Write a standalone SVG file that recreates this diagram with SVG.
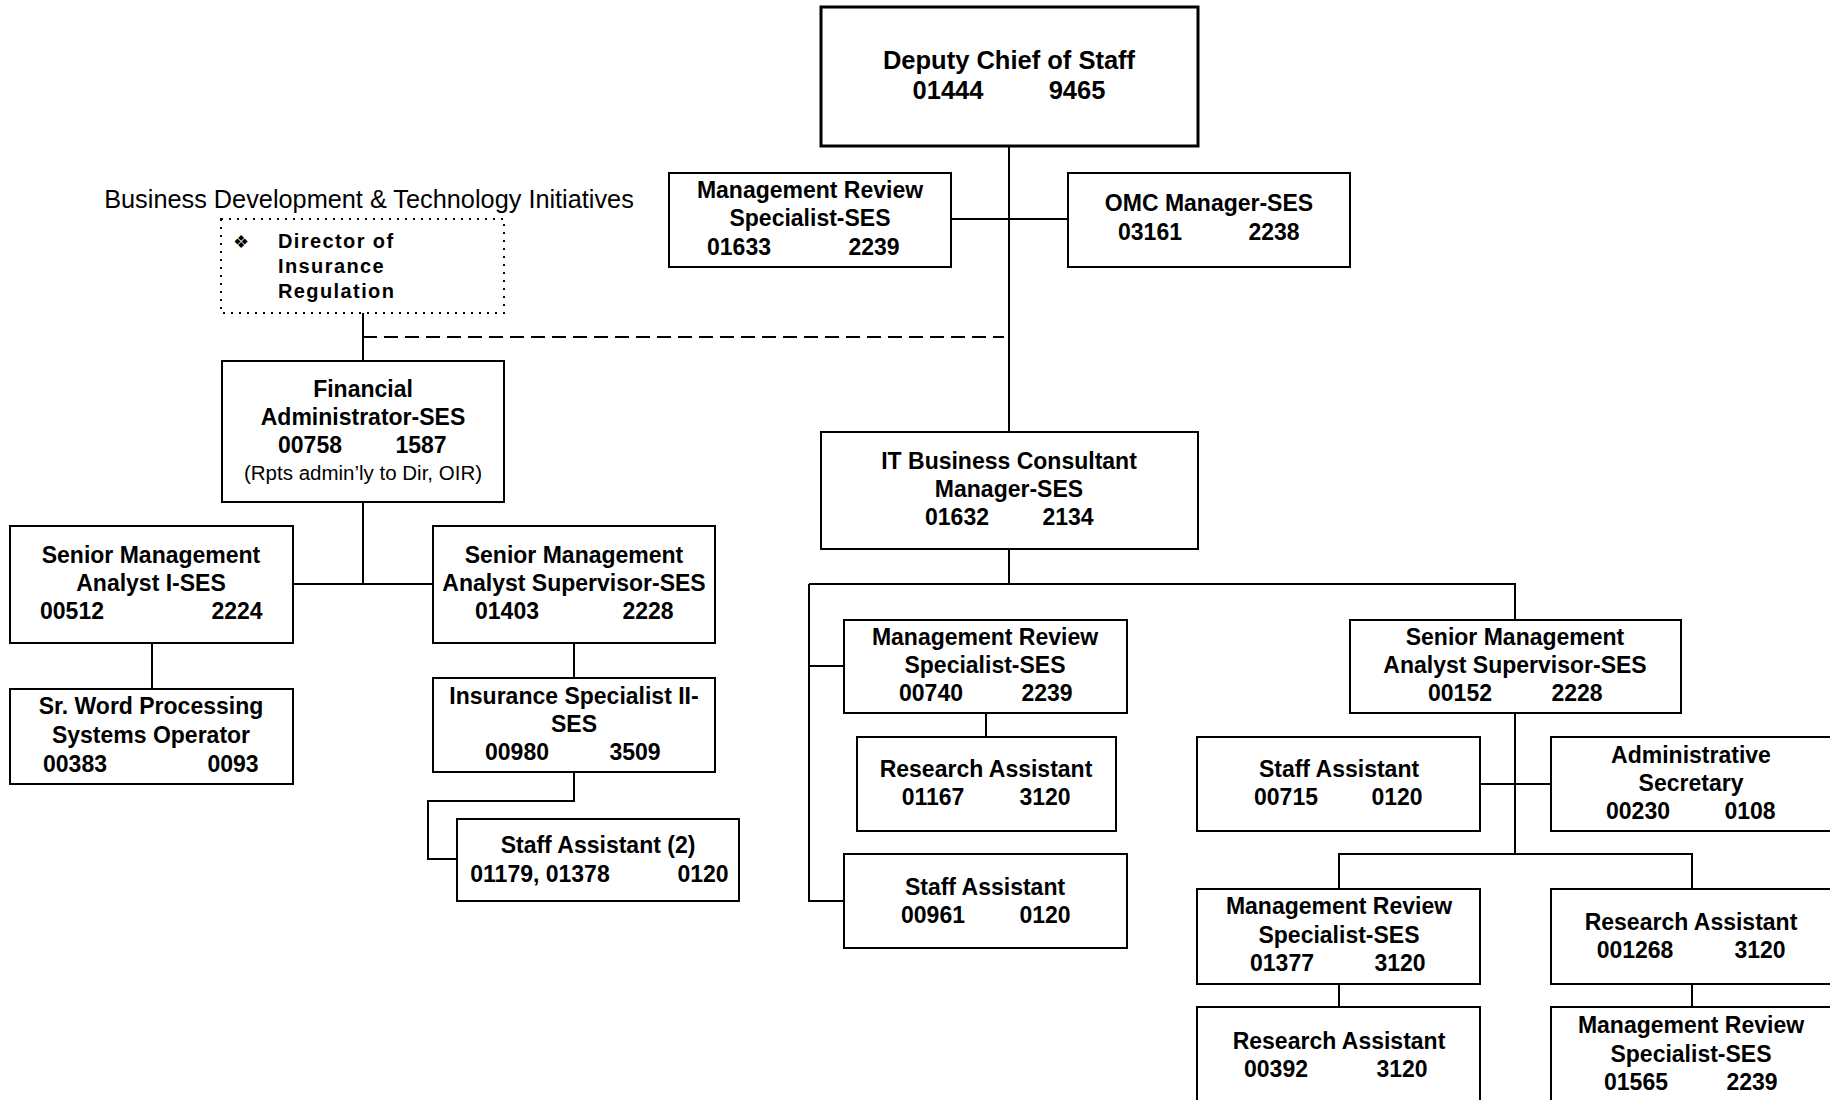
<svg xmlns="http://www.w3.org/2000/svg" width="1830" height="1100" viewBox="0 0 1830 1100">
  <style>
    .box { fill: #fff; stroke: #000; stroke-width: 2; }
    .top { fill: #fff; stroke: #000; stroke-width: 3; }
    .dot { fill: none; stroke: #000; stroke-width: 2; stroke-dasharray: 2 6; }
    .ln { fill: none; stroke: #000; stroke-width: 2; }
    .dash { fill: none; stroke: #000; stroke-width: 2; stroke-dasharray: 14 7; }
    text { font-family: "Liberation Sans", Arial, sans-serif; fill: #000; }
    .t { font-size: 23px; font-weight: bold; text-anchor: middle; }
    .h { font-size: 25.5px; font-weight: bold; text-anchor: middle; }
    .r { font-size: 20.5px; text-anchor: middle; }
    .cap { font-size: 25.3px; text-anchor: middle; }
    .dir { font-size: 20px; font-weight: bold; letter-spacing: 1.4px; }
    .bul { font-family: "DejaVu Sans", sans-serif; font-size: 18px; text-anchor: middle; }
  </style>

  <!-- connectors -->
  <g id="connectors">
    <path class="ln" d="M1009 146 V432"/>
    <path class="ln" d="M951 219 H1068"/>
    <path class="ln" d="M363 313 V361"/>
    <path class="dash" d="M363 337 H1004"/>
    <path class="ln" d="M363 502 V584"/>
    <path class="ln" d="M293 584 H433"/>
    <path class="ln" d="M152 643 V689"/>
    <path class="ln" d="M574 643 V678"/>
    <path class="ln" d="M574 772 V801 H428 V859 H457"/>
    <path class="ln" d="M1009 549 V584"/>
    <path class="ln" d="M809 584 H1515 V620"/>
    <path class="ln" d="M809 584 V901 H844"/>
    <path class="ln" d="M809 666 H844"/>
    <path class="ln" d="M986 713 V737"/>
    <path class="ln" d="M1515 713 V854"/>
    <path class="ln" d="M1480 784 H1551"/>
    <path class="ln" d="M1339 889 V854 H1692 V889"/>
    <path class="ln" d="M1339 984 V1007"/>
    <path class="ln" d="M1692 984 V1007"/>
  </g>

  <!-- caption over the dotted box -->
  <text class="cap" x="369" y="208">Business Development &amp; Technology Initiatives</text>

  <g id="deputy-chief">
    <rect class="top" x="821" y="7" width="377" height="139"/>
    <text class="h" x="1009" y="69">Deputy Chief of Staff</text>
    <text class="h" x="948" y="99">01444</text>
    <text class="h" x="1077" y="99">9465</text>
  </g>

  <g id="mrs-01633">
    <rect class="box" x="669" y="173" width="282" height="94"/>
    <text class="t" x="810" y="198">Management Review</text>
    <text class="t" x="810" y="226">Specialist-SES</text>
    <text class="t" x="739" y="255">01633</text>
    <text class="t" x="874" y="255">2239</text>
  </g>

  <g id="omc-manager">
    <rect class="box" x="1068" y="173" width="282" height="94"/>
    <text class="t" x="1209" y="211">OMC Manager-SES</text>
    <text class="t" x="1150" y="240">03161</text>
    <text class="t" x="1274" y="240">2238</text>
  </g>

  <g id="director-oir">
    <rect class="dot" x="221" y="219" width="283" height="94"/>
    <text class="bul" x="241" y="248">&#x2756;</text>
    <text class="dir" x="278" y="248">Director of</text>
    <text class="dir" x="278" y="273">Insurance</text>
    <text class="dir" x="278" y="298">Regulation</text>
  </g>

  <g id="financial-admin">
    <rect class="box" x="222" y="361" width="282" height="141"/>
    <text class="t" x="363" y="397">Financial</text>
    <text class="t" x="363" y="425">Administrator-SES</text>
    <text class="t" x="310" y="453">00758</text>
    <text class="t" x="421" y="453">1587</text>
    <text class="r" x="363" y="480">(Rpts admin’ly to Dir, OIR)</text>
  </g>

  <g id="sma-00512">
    <rect class="box" x="10" y="526" width="283" height="117"/>
    <text class="t" x="151" y="563">Senior Management</text>
    <text class="t" x="151" y="591">Analyst I-SES</text>
    <text class="t" x="72" y="619">00512</text>
    <text class="t" x="237" y="619">2224</text>
  </g>

  <g id="sma-01403">
    <rect class="box" x="433" y="526" width="282" height="117"/>
    <text class="t" x="574" y="563">Senior Management</text>
    <text class="t" x="574" y="591">Analyst Supervisor-SES</text>
    <text class="t" x="507" y="619">01403</text>
    <text class="t" x="648" y="619">2228</text>
  </g>

  <g id="word-proc-00383">
    <rect class="box" x="10" y="689" width="283" height="95"/>
    <text class="t" x="151" y="714">Sr. Word Processing</text>
    <text class="t" x="151" y="743">Systems Operator</text>
    <text class="t" x="75" y="772">00383</text>
    <text class="t" x="233" y="772">0093</text>
  </g>

  <g id="ins-spec-00980">
    <rect class="box" x="433" y="678" width="282" height="94"/>
    <text class="t" x="574" y="704">Insurance Specialist II-</text>
    <text class="t" x="574" y="732">SES</text>
    <text class="t" x="517" y="760">00980</text>
    <text class="t" x="635" y="760">3509</text>
  </g>

  <g id="staff-asst-2">
    <rect class="box" x="457" y="819" width="282" height="82"/>
    <text class="t" x="598" y="853">Staff Assistant (2)</text>
    <text class="t" x="540" y="882">01179, 01378</text>
    <text class="t" x="703" y="882">0120</text>
  </g>

  <g id="it-consultant">
    <rect class="box" x="821" y="432" width="377" height="117"/>
    <text class="t" x="1009" y="469">IT Business Consultant</text>
    <text class="t" x="1009" y="497">Manager-SES</text>
    <text class="t" x="957" y="525">01632</text>
    <text class="t" x="1068" y="525">2134</text>
  </g>

  <g id="mrs-00740">
    <rect class="box" x="844" y="620" width="283" height="93"/>
    <text class="t" x="985" y="645">Management Review</text>
    <text class="t" x="985" y="673">Specialist-SES</text>
    <text class="t" x="931" y="701">00740</text>
    <text class="t" x="1047" y="701">2239</text>
  </g>

  <g id="ra-01167">
    <rect class="box" x="857" y="737" width="259" height="94"/>
    <text class="t" x="986" y="777">Research Assistant</text>
    <text class="t" x="933" y="805">01167</text>
    <text class="t" x="1045" y="805">3120</text>
  </g>

  <g id="sa-00961">
    <rect class="box" x="844" y="854" width="283" height="94"/>
    <text class="t" x="985" y="895">Staff Assistant</text>
    <text class="t" x="933" y="923">00961</text>
    <text class="t" x="1045" y="923">0120</text>
  </g>

  <g id="sma-00152">
    <rect class="box" x="1350" y="620" width="331" height="93"/>
    <text class="t" x="1515" y="645">Senior Management</text>
    <text class="t" x="1515" y="673">Analyst Supervisor-SES</text>
    <text class="t" x="1460" y="701">00152</text>
    <text class="t" x="1577" y="701">2228</text>
  </g>

  <g id="sa-00715">
    <rect class="box" x="1197" y="737" width="283" height="94"/>
    <text class="t" x="1339" y="777">Staff Assistant</text>
    <text class="t" x="1286" y="805">00715</text>
    <text class="t" x="1397" y="805">0120</text>
  </g>

  <g id="admin-sec-00230">
    <rect class="box" x="1551" y="737" width="290" height="94"/>
    <text class="t" x="1691" y="763">Administrative</text>
    <text class="t" x="1691" y="791">Secretary</text>
    <text class="t" x="1638" y="819">00230</text>
    <text class="t" x="1750" y="819">0108</text>
  </g>

  <g id="mrs-01377">
    <rect class="box" x="1197" y="889" width="283" height="95"/>
    <text class="t" x="1339" y="914">Management Review</text>
    <text class="t" x="1339" y="943">Specialist-SES</text>
    <text class="t" x="1282" y="971">01377</text>
    <text class="t" x="1400" y="971">3120</text>
  </g>

  <g id="ra-001268">
    <rect class="box" x="1551" y="889" width="290" height="95"/>
    <text class="t" x="1691" y="930">Research Assistant</text>
    <text class="t" x="1635" y="958">001268</text>
    <text class="t" x="1760" y="958">3120</text>
  </g>

  <g id="ra-00392">
    <rect class="box" x="1197" y="1007" width="283" height="110"/>
    <text class="t" x="1339" y="1049">Research Assistant</text>
    <text class="t" x="1276" y="1077">00392</text>
    <text class="t" x="1402" y="1077">3120</text>
  </g>

  <g id="mrs-01565">
    <rect class="box" x="1551" y="1007" width="290" height="110"/>
    <text class="t" x="1691" y="1033">Management Review</text>
    <text class="t" x="1691" y="1062">Specialist-SES</text>
    <text class="t" x="1636" y="1090">01565</text>
    <text class="t" x="1752" y="1090">2239</text>
  </g>
</svg>
